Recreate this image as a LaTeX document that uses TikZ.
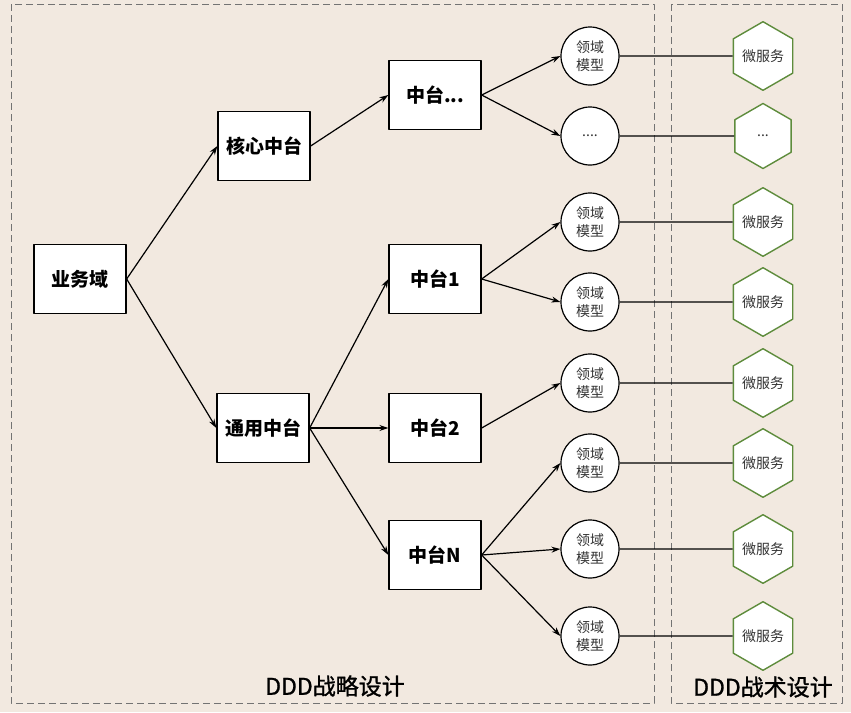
\documentclass[tikz,border=0pt]{standalone}
\usepackage{fontspec}
\setmainfont{Noto Sans CJK SC}
\newfontfamily\damnhe[FakeBold=1.2]{Noto Sans CJK SC}
\usetikzlibrary{shapes.geometric, arrows.meta}
\definecolor{nen}{HTML}{F2E9E0}
\definecolor{xanhla}{HTML}{5E8C3C}
\begin{document}
\begin{tikzpicture}[x=1pt, y=-1pt, line join=round, >={Stealth[length=9pt, width=6pt]},
		hop/.style={draw, fill=white, line width=1.3pt, minimum width=92pt, minimum height=69pt, inner sep=0pt, font=\fontsize{19}{22}\selectfont\bfseries},
		tron/.style={draw, circle, fill=white, line width=1.2pt, minimum size=58pt, inner sep=0pt, align=center, text=black!80, font=\fontsize{14}{18}\selectfont},
		luc/.style={draw=xanhla, regular polygon, regular polygon sides=6, shape border rotate=30, fill=white, line width=1.4pt, minimum size=65pt, inner sep=0pt, text=black!80, font=\fontsize{14}{18}\selectfont},
		khung/.style={draw=black!55, line width=1pt, dash pattern=on 7pt off 4pt},
		nhan/.style={font=\fontsize{23}{26}\damnhe},
		mui/.style={->, line width=1.2pt},
		noi/.style={line width=1.2pt}]
			\fill[nen] (0,0) rectangle (851,712);
			\useasboundingbox (0,0) rectangle (851,712);
			\draw[khung] (11,4) rectangle (654,703);
			\draw[khung] (671,4) rectangle (842,703);
			% Các hộp
			\node[hop] (ywy) at (80,279) {业务域};
			\node[hop] (hx) at (264,146) {核心中台};
			\node[hop] (ty) at (263,428) {通用中台};
			\node[hop] (zt0) at (435,95) {中台...};
			\node[hop] (zt1) at (435,279) {中台1};
			\node[hop] (zt2) at (435,428) {中台2};
			\node[hop] (ztn) at (435,555) {中台N};
			% Mô hình miền
			\node[tron] (m1) at (590,56) {领域\\模型};
			\node[tron] (m2) at (590,136) {....};
			\node[tron] (m3) at (590,222) {领域\\模型};
			\node[tron] (m4) at (590,302) {领域\\模型};
			\node[tron] (m5) at (590,383) {领域\\模型};
			\node[tron] (m6) at (590,463) {领域\\模型};
			\node[tron] (m7) at (590,549) {领域\\模型};
			\node[tron] (m8) at (590,636) {领域\\模型};
			% Vi dịch vụ
			\node[luc] (w1) at (763,56) {微服务};
			\node[luc] (w2) at (763,136) {...};
			\node[luc] (w3) at (763,222) {微服务};
			\node[luc] (w4) at (763,302) {微服务};
			\node[luc] (w5) at (763,383) {微服务};
			\node[luc] (w6) at (763,463) {微服务};
			\node[luc] (w7) at (763,549) {微服务};
			\node[luc] (w8) at (763,636) {微服务};
			\node[nhan] (chienluoc) at (335,686) {DDD战略设计};
			\node[nhan] (chienthuat) at (763,687) {DDD战术设计};
			% Mũi tên
			\draw[mui] (ywy.east)--(hx.west);
			\draw[mui] (ywy.east)--(ty.west);
			\draw[mui] (hx.east)--(zt0.west);
			\draw[mui] (ty.east)--(zt1.west);
			\draw[mui] (ty.east)--(zt2.west);
			\draw[mui] (ty.east)--(ztn.west);
			\draw[mui] (zt0.east)--(m1.west);
			\draw[mui] (zt0.east)--(m2.west);
			\draw[mui] (zt1.east)--(m3.west);
			\draw[mui] (zt1.east)--(m4.west);
			\draw[mui] (zt2.east)--(m5.west);
			\draw[mui] (ztn.east)--(m6.west);
			\draw[mui] (ztn.east)--(m7.west);
			\draw[mui] (ztn.east)--(m8.west);
			% Đường nối
			\draw[noi] (m1.east)--(w1.west);
			\draw[noi] (m2.east)--(w2.west);
			\draw[noi] (m3.east)--(w3.west);
			\draw[noi] (m4.east)--(w4.west);
			\draw[noi] (m5.east)--(w5.west);
			\draw[noi] (m6.east)--(w6.west);
			\draw[noi] (m7.east)--(w7.west);
			\draw[noi] (m8.east)--(w8.west);
		\end{tikzpicture}
\end{document}
